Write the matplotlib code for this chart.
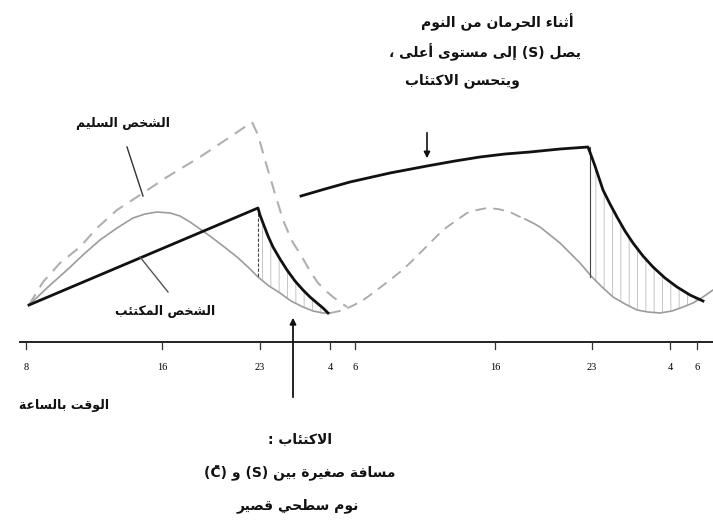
import matplotlib
matplotlib.use('Agg')
import matplotlib.pyplot as plt

# time axis: positions of the hour marks as drawn, and their labels
tick_x = [26, 162, 260, 330, 355, 495, 592, 670, 697]
tick_labels = ['8', '16', '23', '4', '6', '16', '23', '4', '6']

# healthy person, circadian curve C (grey: solid, dashed during the night, solid)
c1_x = [29, 48, 67, 84, 100, 117, 133, 145, 157, 170, 180, 190, 200, 210, 223, 237, 248, 258,
        269, 280, 291, 303, 313, 323, 330]
c1_y = [37, 55, 72, 88, 102, 114, 124, 128, 130, 129, 126, 120, 113, 106, 96, 85, 75, 65,
        56, 49, 41, 35, 31, 29, 29]
c2_x = [330, 340, 350, 362, 373, 390, 400, 410, 420, 430, 438, 447, 457, 467, 477, 487, 498, 510, 518, 525]
c2_y = [29, 31, 35, 41, 49, 62, 70, 79, 89, 99, 107, 115, 122, 129, 132, 134, 133, 130, 126, 123]
c3_x = [525, 533, 540, 550, 560, 570, 580, 592, 602, 613, 625, 637, 648, 660, 672, 683, 693, 703, 713]
c3_y = [123, 119, 115, 107, 99, 89, 79, 65, 55, 45, 38, 32, 30, 29, 31, 35, 39, 45, 52]

# healthy person, sleep process S (grey dashed)
hs_x = [29, 43, 60, 80, 97, 117, 140, 167, 200, 233, 252, 258, 265, 273, 283, 292, 302,
        310, 318, 326, 333, 340, 347]
hs_y = [37, 60, 79, 95, 114, 132, 147, 165, 185, 207, 220, 207, 182, 155, 122, 101, 85,
        71, 59, 51, 45, 40, 35]

# depressed person, S (thick black): normal night, then sleep deprivation
d1_x = [29, 258, 260, 263, 268, 273, 280, 287, 295, 303, 310, 317, 323, 328]
d1_y = [37, 134, 127, 119, 106, 95, 83, 72, 61, 52, 45, 39, 34, 29]
d2_x = [301, 325, 350, 390, 427, 455, 480, 505, 530, 560, 588, 591, 595, 599, 603, 610,
        617, 625, 633, 643, 653, 665, 677, 690, 703]
d2_y = [146, 153, 160, 169, 176, 181, 185, 188, 190, 193, 195, 187, 176, 164, 152, 138,
        125, 111, 99, 86, 75, 64, 55, 47, 41]

# --- minimal arabic shaping (matplotlib has no bidi / joining) ---
_four = {'ئ': 0xFE89, 'ب': 0xFE8F, 'ت': 0xFE95, 'ث': 0xFE99, 'ج': 0xFE9D, 'ح': 0xFEA1,
         'خ': 0xFEA5, 'س': 0xFEB1, 'ش': 0xFEB5, 'ص': 0xFEB9, 'ض': 0xFEBD, 'ط': 0xFEC1,
         'ظ': 0xFEC5, 'ع': 0xFEC9, 'غ': 0xFECD, 'ف': 0xFED1, 'ق': 0xFED5, 'ك': 0xFED9,
         'ل': 0xFEDD, 'م': 0xFEE1, 'ن': 0xFEE5, 'ه': 0xFEE9, 'ي': 0xFEF1}
_two = {'آ': 0xFE81, 'أ': 0xFE83, 'ؤ': 0xFE85, 'إ': 0xFE87, 'ا': 0xFE8D, 'ة': 0xFE93,
        'د': 0xFEA9, 'ذ': 0xFEAB, 'ر': 0xFEAD, 'ز': 0xFEAF, 'و': 0xFEED, 'ى': 0xFEEF}
_one = {'ء': 0xFE80}
_lamalef = {'آ': 0xFEF5, 'أ': 0xFEF7, 'إ': 0xFEF9, 'ا': 0xFEFB}


def _is_ar(c):
    return c in _four or c in _two or c in _one


def shape_word(w):
    out = []
    i = 0
    while i < len(w):
        c = w[i]
        if not _is_ar(c):
            out.append(c)
            i += 1
            continue
        jp = i > 0 and w[i - 1] in _four
        nxt = w[i + 1] if i + 1 < len(w) else ''
        if c == 'ل' and nxt in _lamalef:
            out.append(chr(_lamalef[nxt] + (1 if jp else 0)))
            i += 2
            continue
        if c in _one:
            out.append(chr(_one[c]))
        elif c in _two:
            out.append(chr(_two[c] + (1 if jp else 0)))
        else:
            jn = _is_ar(nxt)
            b = _four[c]
            if jp and jn:
                b += 3
            elif jp:
                b += 1
            elif jn:
                b += 2
            out.append(chr(b))
        i += 1
    return ''.join(out)


def ar(line):
    words = []
    for w in line.split(' '):
        if any(_is_ar(c) for c in w):
            words.append(shape_word(w)[::-1])
        else:
            words.append(w)
    return ' '.join(words[::-1])


plt.rcParams['font.family'] = ['DejaVu Sans']
plt.rcParams['hatch.linewidth'] = 0.7

fig = plt.figure(figsize=(7.13, 5.31), dpi=100)
ax = fig.add_axes([0, 0, 1, 1])
ax.set_xlim(0, 713)
ax.set_ylim(-189, 342)
ax.axis('off')

grey = '#9c9c9c'
# hatched areas between S and C after 23h
i0 = c1_x.index(d1_x[1])
left_poly = list(zip(d1_x[1:], d1_y[1:])) + list(zip(c1_x[i0:], c1_y[i0:]))[::-1]
j0 = d2_x.index(588)
k0 = c3_x.index(592)
k1 = c3_x.index(703)
right_poly = list(zip(d2_x[j0:], d2_y[j0:])) + list(zip(c3_x[k0:k1 + 1], c3_y[k0:k1 + 1]))[::-1]
for poly in (left_poly, right_poly):
    xs, ys = zip(*poly)
    ax.fill(xs, ys, facecolor='none', edgecolor='#c6c6c6', lw=0, hatch='||')

ax.plot(c1_x, c1_y, color=grey, lw=1.2)
ax.plot(c2_x, c2_y, color='#a8a8a8', lw=1.3, dashes=(6, 4))
ax.plot(c3_x, c3_y, color=grey, lw=1.2)
ax.plot(hs_x, hs_y, color='#b0b0b0', lw=1.5, dashes=(6, 4))

ax.plot([d1_x[1], d1_x[1]], [d1_y[1], c1_y[i0]], color='#444444', lw=0.8, dashes=(3, 1.5))
ax.plot([590, 590], [d2_y[j0], c3_y[k0]], color='#444444', lw=0.8)

ax.plot(d1_x, d1_y, color='#111111', lw=2.0, solid_joinstyle='round')
ax.plot(d2_x, d2_y, color='#111111', lw=2.0, solid_joinstyle='round')

# time axis
ax.plot([20, 713], [0, 0], color='#222222', lw=1.4)
for x, lab in zip(tick_x, tick_labels):
    ax.plot([x, x], [0, -7], color='#333333', lw=0.9)
    ax.text(x, -26, lab, ha='center', va='center', fontsize=7.5, family='Liberation Serif')

# pointers and arrows
ax.plot([127, 143], [195, 146], color='#333333', lw=1.0)
ax.plot([140, 168], [85, 50], color='#555555', lw=1.0)
ax.annotate('', xy=(427, 181), xytext=(427, 212),
            arrowprops=dict(arrowstyle='-|>', color='#111111', lw=1.2, mutation_scale=9))
ax.annotate('', xy=(293, 27), xytext=(293, -58),
            arrowprops=dict(arrowstyle='-|>', color='#111111', lw=1.3, mutation_scale=9))

# texts
tk = dict(ha='center', va='center', fontweight='bold', color='#111111')
ax.text(497, 320, ar('أثناء الحرمان من النوم'), fontsize=10, **tk)
ax.text(485, 290, ar('يصل (S) إلى مستوى أعلى ،'), fontsize=10, **tk)
ax.text(462, 261, ar('ويتحسن الاكتئاب'), fontsize=10, **tk)
ax.text(123, 218, ar('الشخص السليم'), fontsize=9, **tk)
ax.text(165, 30, ar('الشخص المكتئب'), fontsize=9, **tk)
ax.text(64, -64, ar('الوقت بالساعة'), fontsize=9, **tk)
ax.text(300, -98, ar('الاكتئاب :'), fontsize=10, **tk)
ax.text(300, -131, ar('مسافة صغيرة بين (S) و (C\u0304)'), fontsize=10, **tk)
ax.text(298, -164, ar('نوم سطحي قصير'), fontsize=10, **tk)

fig.savefig('out.png', dpi=100)
